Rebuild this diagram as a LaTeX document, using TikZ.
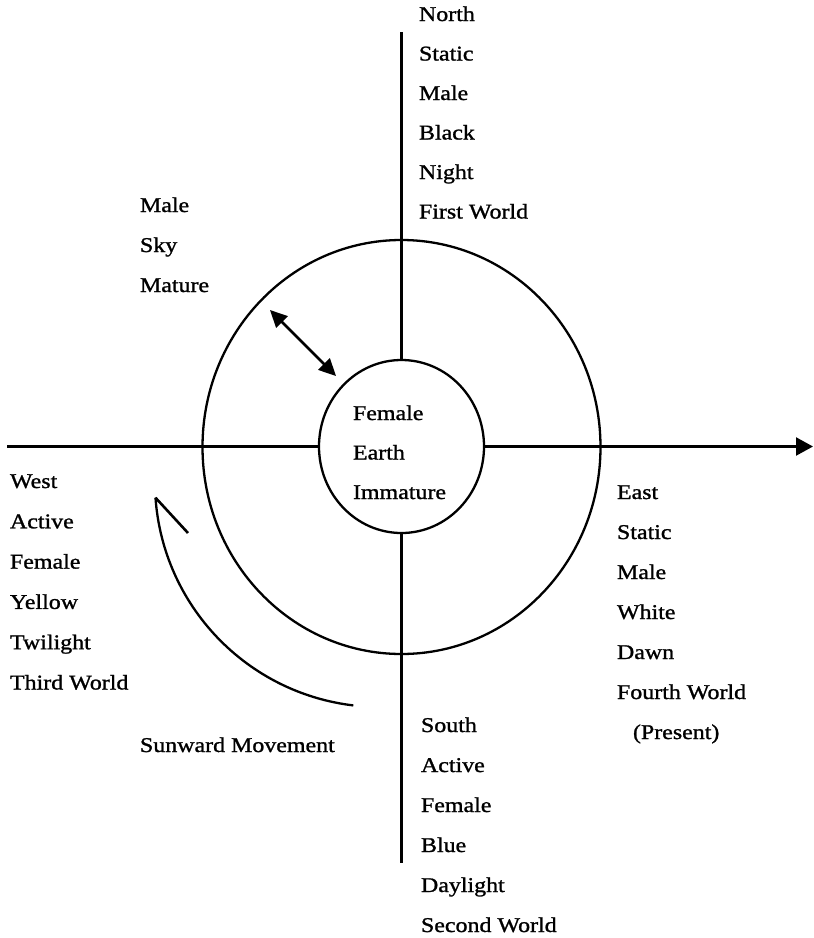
\documentclass[tikz,border=0pt]{standalone}
\usepackage{fontspec}
\setmainfont{Liberation Serif}[FakeStretch=1.14,FakeBold=1.2]
\usetikzlibrary{arrows.meta,shapes.geometric}
\begin{document}
\begin{tikzpicture}[x=1pt,y=-1pt,
  lab/.style={anchor=base west,inner sep=0pt,outer sep=0pt,font=\fontsize{21}{25}\selectfont},
  ring/.style={ellipse,draw,line width=2.3pt,inner sep=0pt,outer sep=0pt},
  axis/.style={line width=2.3pt},
  bigtip/.style={-{Triangle[length=17pt,width=18pt]}},
  dbl/.style={{Triangle[length=17pt,width=16pt]}-{Triangle[length=17pt,width=16pt]},line width=2.8pt}]
\useasboundingbox (0,0) rectangle (814,938);
% circles
\node[ring,minimum width=398pt,minimum height=414pt] (outer) at (401.5,447) {};
\node[ring,minimum width=165pt,minimum height=173pt] (inner) at (401.5,446.5) {};
% axes
\coordinate (westend) at (7,446.5);
\coordinate (eastend) at (813,446.5);
\coordinate (northend) at (401.5,32);
\coordinate (southend) at (401.5,863);
\draw[axis] (westend) -- (inner.west);
\draw[axis,bigtip] (inner.east) -- (eastend);
\draw[axis] (northend) -- (inner.north);
\draw[axis] (inner.south) -- (southend);
% double arrow
\coordinate (da1) at (270,310);
\coordinate (da2) at (336,376);
\draw[dbl] (da1) -- (da2);
% sunward movement arc
\coordinate (sw1) at (155.5,497.7);
\coordinate (hook) at (188,533);
\draw[line width=2.3pt] (sw1) arc[start angle=176,end angle=96.8,radius=225];
\draw[line width=2.6pt] (sw1) -- (hook);
% north
\foreach \t [count=\i from 0] in {North,Static,Male,Black,Night,First World}
  \node[lab] (north\i) at (419,21+39.5*\i) {\t};
% upper left
\foreach \t [count=\i from 0] in {Male,Sky,Mature}
  \node[lab] (ul\i) at (140,212+40*\i) {\t};
% centre
\foreach \t [count=\i from 0] in {Female,Earth,Immature}
  \node[lab] (c\i) at (353,420+39.5*\i) {\t};
% west
\foreach \t [count=\i from 0] in {West,Active,Female,Yellow,Twilight,Third World}
  \node[lab] (west\i) at (10,488+40.3*\i) {\t};
% east
\foreach \t [count=\i from 0] in {East,Static,Male,White,Dawn,Fourth World}
  \node[lab] (east\i) at (617,499+40*\i) {\t};
\node[lab] (present) at (633,739) {(Present)};
% south
\foreach \t [count=\i from 0] in {South,Active,Female,Blue,Daylight,Second World}
  \node[lab] (south\i) at (421,732+40*\i) {\t};
\node[lab] (sunward) at (140,752) {Sunward Movement};
\end{tikzpicture}
\end{document}
